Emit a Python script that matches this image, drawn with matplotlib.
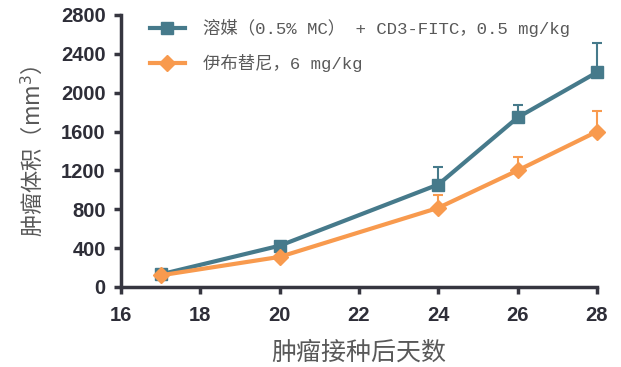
import matplotlib
matplotlib.use("Agg")
import matplotlib.pyplot as plt
from matplotlib.lines import Line2D

days = [17, 20, 24, 26, 28]
vehicle_mean = [130, 425, 1055, 1745, 2210]
vehicle_err = [0, 0, 180, 125, 300]
ibrutinib_mean = [120, 310, 815, 1200, 1600]
ibrutinib_err = [0, 0, 135, 140, 210]
series_labels = ["溶媒（0.5% MC） + CD3-FITC，0.5 mg/kg", "伊布替尼，6 mg/kg"]
x_ticks = [16, 18, 20, 22, 24, 26, 28]
y_ticks = [0, 400, 800, 1200, 1600, 2000, 2400, 2800]

teal = "#467A8B"
orange = "#F89A4E"
axis_col = "#363640"
text_col = "#595959"
cjk = ["Noto Sans CJK SC", "DejaVu Sans"]
legend_fonts = ["Liberation Mono", "Noto Sans CJK SC"]

fig = plt.figure(figsize=(6.21, 3.67), dpi=100)
ax = fig.add_axes([121 / 621, 1 - 287 / 367, (597 - 121) / 621, (287 - 15) / 367])

styles = [
    (vehicle_mean, vehicle_err, teal, "s", 9, 3),
    (ibrutinib_mean, ibrutinib_err, orange, "D", 8, 4),
]
handles = []
for (mean, err, col, mk, ms, z), lab in zip(styles, series_labels):
    ax.errorbar(days, mean, yerr=[[0] * len(days), err], color=col,
                marker=mk, markersize=ms, linewidth=3, elinewidth=1.5,
                capsize=3.5, capthick=1.5, zorder=z, clip_on=False)
    handles.append(Line2D([], [], color=col, marker=mk, markersize=ms,
                          linewidth=3, label=lab))

ax.set_xlim(16, 28)
ax.set_ylim(0, 2800)
ax.set_xticks(x_ticks)
ax.set_yticks(y_ticks)
for s in ["top", "right"]:
    ax.spines[s].set_visible(False)
for s in ["left", "bottom"]:
    ax.spines[s].set_linewidth(2.5)
    ax.spines[s].set_color(axis_col)
ax.tick_params(direction="out", length=5, width=2.5, color=axis_col)
ax.tick_params(axis="x", pad=9)
ax.tick_params(axis="y", pad=6)
for lab in ax.get_xticklabels() + ax.get_yticklabels():
    lab.set_fontfamily("Liberation Sans")
    lab.set_fontweight("bold")
    lab.set_fontsize(14.5)
    lab.set_color("#2e2e38")

ax.set_xlabel("肿瘤接种后天数", fontfamily=cjk, fontsize=18, color=text_col,
              fontweight="light", labelpad=10)
ax.set_ylabel("肿瘤体积（mm$^3$）", fontfamily=cjk, fontsize=16, color=text_col,
              fontweight="light", labelpad=11)

leg = ax.legend(handles=handles, loc="upper left", bbox_to_anchor=(0.061, 0.985),
                frameon=False, prop={"family": legend_fonts, "size": 12.5},
                handlelength=2.0, labelspacing=0.95, handletextpad=1.05,
                borderpad=0, borderaxespad=0)
for t in leg.get_texts():
    t.set_color(text_col)

fig.savefig("out.png", dpi=100)
